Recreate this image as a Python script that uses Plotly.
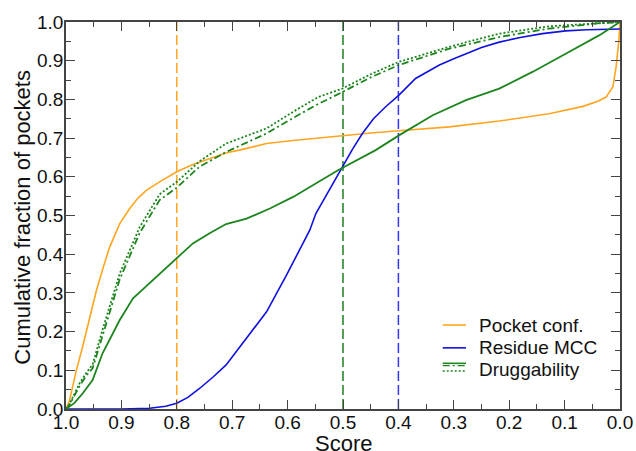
import plotly.graph_objects as go

# ---- data ----
pocket_x = [1.0, 0.994, 0.99, 0.982, 0.97, 0.958, 0.945, 0.933, 0.921, 0.903, 0.885, 0.87, 0.855, 0.831, 0.80, 0.771,
            0.74, 0.71, 0.687, 0.638, 0.59, 0.549, 0.501, 0.45, 0.399, 0.308, 0.218, 0.128, 0.067, 0.04, 0.025, 0.013,
            0.007, 0.002, 0.0]
pocket_y = [0.0, 0.02, 0.045, 0.096, 0.161, 0.23, 0.307, 0.365, 0.419, 0.479, 0.518, 0.545, 0.565, 0.587, 0.613, 0.632,
            0.648, 0.662, 0.669, 0.686, 0.694, 0.700, 0.707, 0.713, 0.719, 0.729, 0.744, 0.763, 0.782, 0.795, 0.806, 0.832,
            0.884, 0.953, 1.0]

mcc_x = [1.0, 0.95, 0.9, 0.849, 0.82, 0.80, 0.78, 0.759, 0.735, 0.711, 0.674, 0.638, 0.602, 0.58, 0.56, 0.549, 0.525,
         0.501, 0.483, 0.465, 0.445, 0.423, 0.399, 0.369, 0.345, 0.326, 0.30, 0.278, 0.25, 0.218, 0.18, 0.14, 0.098,
         0.06, 0.037, 0.0]
mcc_y = [0.0, 0.0, 0.0, 0.002, 0.007, 0.015, 0.030, 0.053, 0.082, 0.114, 0.183, 0.251, 0.346, 0.405, 0.462, 0.505, 0.565,
         0.626, 0.671, 0.712, 0.750, 0.781, 0.811, 0.854, 0.874, 0.889, 0.905, 0.918, 0.934, 0.948, 0.960, 0.970, 0.977,
         0.980, 0.981, 0.982]

drug_x = [1.0, 0.985, 0.97, 0.952, 0.934, 0.903, 0.879, 0.849, 0.801, 0.771, 0.74, 0.711, 0.674, 0.632, 0.590,
          0.56, 0.509, 0.441, 0.399, 0.338, 0.278, 0.218, 0.158, 0.098, 0.037, 0.0]
drug_y = [0.0, 0.015, 0.040, 0.075, 0.144, 0.230, 0.286, 0.325, 0.390, 0.428, 0.455, 0.478, 0.492, 0.518, 0.548,
          0.574, 0.617, 0.669, 0.707, 0.759, 0.798, 0.828, 0.871, 0.918, 0.966, 1.0]

drug_dd_x = [1.0, 0.994, 0.976, 0.964, 0.952, 0.934, 0.903, 0.867, 0.831, 0.801, 0.759, 0.711, 0.638, 0.59, 0.549,
             0.501, 0.45, 0.399, 0.308, 0.218, 0.128, 0.037, 0.0]
drug_dd_y = [0.0, 0.01, 0.058, 0.085, 0.105, 0.19, 0.335, 0.455, 0.54, 0.571, 0.626, 0.664, 0.712, 0.752, 0.785,
             0.819, 0.857, 0.889, 0.931, 0.961, 0.983, 0.997, 1.0]

drug_dot_x = [1.0, 0.994, 0.976, 0.964, 0.952, 0.934, 0.903, 0.867, 0.831, 0.80, 0.759, 0.711, 0.638, 0.59, 0.545,
              0.501, 0.45, 0.399, 0.308, 0.218, 0.128, 0.037, 0.0]
drug_dot_y = [0.0, 0.012, 0.065, 0.092, 0.115, 0.205, 0.35, 0.47, 0.555, 0.587, 0.64, 0.686, 0.725, 0.768, 0.806,
              0.828, 0.865, 0.897, 0.936, 0.970, 0.989, 0.998, 1.0]

thresholds = [0.8, 0.5, 0.4]
threshold_colors = ["#FFA520", "#1E7F1E", "#3333FF"]

legend_labels = ["Pocket conf.", "Residue MCC", "Druggability"]
x_title = "Score"
y_title = "Cumulative fraction of pockets"

ORANGE = "#FFA520"
BLUE = "#1010E0"
GREEN = "#1E841E"
FONT = "Liberation Sans, Arial, sans-serif"

fig = go.Figure()

for t, c in zip(thresholds, threshold_colors):
    fig.add_trace(go.Scatter(x=[t, t], y=[0, 1], mode="lines",
                             line=dict(color=c, width=1.5, dash="10px,4px"),
                             showlegend=False, hoverinfo="skip"))

fig.add_trace(go.Scatter(x=pocket_x, y=pocket_y, mode="lines",
                         line=dict(color=ORANGE, width=1.6), showlegend=False))
fig.add_trace(go.Scatter(x=mcc_x, y=mcc_y, mode="lines",
                         line=dict(color=BLUE, width=1.6), showlegend=False))
fig.add_trace(go.Scatter(x=drug_x, y=drug_y, mode="lines",
                         line=dict(color=GREEN, width=1.8), showlegend=False))
fig.add_trace(go.Scatter(x=drug_dd_x, y=drug_dd_y, mode="lines",
                         line=dict(color=GREEN, width=1.8, dash="7px,3px,2px,3px"), showlegend=False))
fig.add_trace(go.Scatter(x=drug_dot_x, y=drug_dot_y, mode="lines",
                         line=dict(color=GREEN, width=1.8, dash="2px,2px"), showlegend=False))

# custom legend (paper coords)
lx0, lx1, tx = 0.680, 0.722, 0.742
leg_y = [0.217, 0.158, 0.101]
shapes = [
    dict(type="line", xref="paper", yref="paper", x0=lx0, x1=lx1, y0=leg_y[0], y1=leg_y[0],
         line=dict(color=ORANGE, width=1.6)),
    dict(type="line", xref="paper", yref="paper", x0=lx0, x1=lx1, y0=leg_y[1], y1=leg_y[1],
         line=dict(color=BLUE, width=1.6)),
    dict(type="line", xref="paper", yref="paper", x0=lx0, x1=lx1, y0=leg_y[2] + 0.017, y1=leg_y[2] + 0.017,
         line=dict(color=GREEN, width=1.6)),
    dict(type="line", xref="paper", yref="paper", x0=lx0, x1=lx1, y0=leg_y[2] + 0.011, y1=leg_y[2] + 0.011,
         line=dict(color=GREEN, width=1.4, dash="7px,3px,2px,3px")),
    dict(type="line", xref="paper", yref="paper", x0=lx0, x1=lx1, y0=leg_y[2] - 0.003, y1=leg_y[2] - 0.003,
         line=dict(color=GREEN, width=1.4, dash="2px,2px")),
]
annotations = [dict(x=tx, y=yy, xref="paper", yref="paper", text=lab, showarrow=False,
                    xanchor="left", yanchor="middle", font=dict(family=FONT, size=19, color="#111"))
               for lab, yy in zip(legend_labels, leg_y)]
# axis titles
annotations.append(dict(x=0.5, y=-0.088, xref="paper", yref="paper", text=x_title, showarrow=False,
                        xanchor="center", yanchor="middle", font=dict(family=FONT, size=22, color="#111")))
annotations.append(dict(x=-0.080, y=0.496, xref="paper", yref="paper", text=y_title, showarrow=False,
                        textangle=-90, xanchor="center", yanchor="middle",
                        font=dict(family=FONT, size=22, color="#111")))

axis_common = dict(showline=True, linecolor="#444", linewidth=1.5, mirror="ticks",
                   ticks="inside", ticklen=9, tickwidth=1.3, tickcolor="#444",
                   showgrid=False, zeroline=False, tickformat=".1f", automargin=False,
                   tickfont=dict(family=FONT, size=19, color="#111"))

fig.update_layout(
    template="none",
    width=636, height=451,
    margin=dict(l=66, r=16, t=22, b=42),
    paper_bgcolor="white", plot_bgcolor="white",
    shapes=shapes, annotations=annotations,
    xaxis=dict(range=[1.0, 0.0], dtick=0.1, tick0=0, ticklabelstandoff=-5,
               minor=dict(dtick=0.05, ticks="inside", ticklen=5, tickcolor="#444", tickwidth=1.2),
               **axis_common),
    yaxis=dict(range=[0.0, 1.0], dtick=0.1, tick0=0, ticklabelstandoff=-3,
               minor=dict(dtick=0.05, ticks="inside", ticklen=5, tickcolor="#444", tickwidth=1.2),
               **axis_common),
)

fig.write_html("out.html", config={"displayModeBar": False},
               post_script="document.body.style.margin='0';document.body.style.overflow='hidden';")
